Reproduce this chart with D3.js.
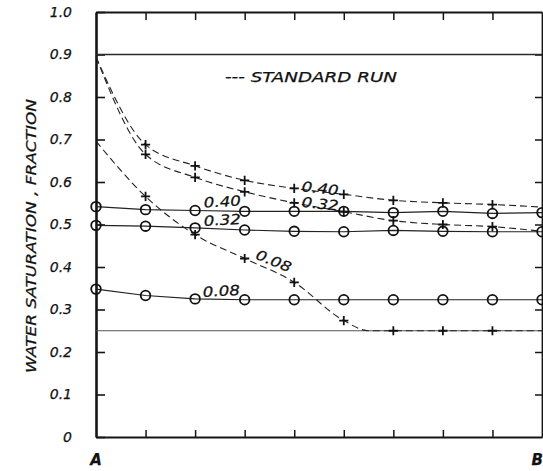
<!DOCTYPE html>
<html>
<head>
<meta charset="utf-8">
<script src="https://cdn.jsdelivr.net/npm/d3@7"></script>
<style>
  html, body { margin: 0; padding: 0; background: #fff; }
  svg { display: block; }
  text { font-family: "DejaVu Sans", sans-serif; font-style: italic; fill: #111; stroke: #111; stroke-width: 0.25; }
</style>
</head>
<body>
<svg id="chart" width="543" height="471"></svg>
<script>
// Positions along the core, A (0) to B (9)
const positions = [0, 1, 2, 3, 4, 5, 6, 7, 8, 9];

// Solid curves (circles), one per injection rate label
const solid040 = [0.542, 0.535, 0.533, 0.531, 0.531, 0.531, 0.528, 0.531, 0.526, 0.528];
const solid032 = [0.498, 0.496, 0.492, 0.487, 0.484, 0.483, 0.486, 0.484, 0.483, 0.483];
const solid008 = [0.348, 0.333, 0.325, 0.323, 0.323, 0.323, 0.323, 0.323, 0.323, 0.323];

// Standard run (dashed, crosses)
const std040 = [0.894, 0.688, 0.638, 0.604, 0.585, 0.571, 0.557, 0.551, 0.547, 0.541];
const std032 = [0.894, 0.665, 0.611, 0.577, 0.551, 0.530, 0.509, 0.500, 0.495, 0.484];
const std008X = [0, 1, 2, 3, 4, 5, 5.5, 6, 7, 8, 9];
const std008 = [0.696, 0.566, 0.476, 0.420, 0.364, 0.274, 0.25, 0.25, 0.25, 0.25, 0.25];
const crossPositions = [1, 2, 3, 4, 5, 6, 7, 8];

// Reference levels
const upperLevel = 0.9;
const lowerLevel = 0.25;

const yTicks = [0, 0.1, 0.2, 0.3, 0.4, 0.5, 0.6, 0.7, 0.8, 0.9, 1.0];
const yTickLabels = ["0", "0.1", "0.2", "0.3", "0.4", "0.5", "0.6", "0.7", "0.8", "0.9", "1.0"];
const xTicks = [1, 2, 3, 4, 5, 6, 7, 8];

const svg = d3.select("#chart");
const x = d3.scaleLinear().domain([0, 9]).range([96, 542]);
const y = d3.scaleLinear().domain([0, 1]).range([437, 12]);
const ink = "#151515";

// Frame with inward ticks
const axisLeftG = svg.append("g").attr("transform", `translate(${x(0)},0)`)
  .call(d3.axisLeft(y).tickValues(yTicks).tickSize(-9).tickSizeOuter(0).tickPadding(24)
    .tickFormat((d, i) => yTickLabels[i]));
axisLeftG.select(".domain").attr("stroke", ink).attr("stroke-width", 2.6);
axisLeftG.selectAll(".tick line").attr("stroke", ink).attr("stroke-width", 1.6);
axisLeftG.selectAll(".tick text").attr("font-size", 14).attr("font-family", "DejaVu Sans")
  .attr("font-style", "italic").attr("fill", "#111").attr("stroke", "#111").attr("stroke-width", 0.35);

const axisRightG = svg.append("g").attr("transform", `translate(${x(9)},0)`)
  .call(d3.axisRight(y).tickValues(yTicks.slice(1, 10)).tickSize(-7).tickSizeOuter(0).tickFormat(""));
axisRightG.select(".domain").attr("stroke", ink).attr("stroke-width", 1.8);
axisRightG.selectAll(".tick line").attr("stroke", ink).attr("stroke-width", 1.5);

const axisBottomG = svg.append("g").attr("transform", `translate(0,${y(0)})`)
  .call(d3.axisBottom(x).tickValues(xTicks).tickSize(-7).tickSizeOuter(0).tickFormat(""));
axisBottomG.select(".domain").attr("stroke", ink).attr("stroke-width", 2.2);
axisBottomG.selectAll(".tick line").attr("stroke", ink).attr("stroke-width", 1.5);

const axisTopG = svg.append("g").attr("transform", `translate(0,${y(1)})`)
  .call(d3.axisTop(x).tickValues(xTicks).tickSize(-8).tickSizeOuter(0).tickFormat(""));
axisTopG.select(".domain").attr("stroke", ink).attr("stroke-width", 1.8);
axisTopG.selectAll(".tick line").attr("stroke", ink).attr("stroke-width", 1.5);

// Reference levels
[[upperLevel, 1.3, "#2a2a2a"], [lowerLevel, 1.2, "#555"]].forEach(([v, w, c]) => {
  svg.append("line").attr("x1", x(0)).attr("x2", x(9)).attr("y1", y(v)).attr("y2", y(v))
    .attr("stroke", c).attr("stroke-width", w);
});

// Dashed standard-run curves
const dashed = d3.line().curve(d3.curveMonotoneX);
const drawDashed = (xs, ys) => svg.append("path")
  .attr("d", dashed(xs.map((p, i) => [x(p), y(ys[i])])))
  .attr("fill", "none").attr("stroke", "#222").attr("stroke-width", 1.1)
  .attr("stroke-dasharray", "7,4");
drawDashed(positions, std040);
drawDashed(positions, std032);
drawDashed(std008X, std008);

// Solid curves
const solid = d3.line();
[solid040, solid032, solid008].forEach(vals => {
  svg.append("path").attr("d", solid(positions.map((p, i) => [x(p), y(vals[i])])))
    .attr("fill", "none").attr("stroke", "#222").attr("stroke-width", 1.2);
});

// Crosses on the standard run
const crossAt = (p, v) => {
  const cx = x(p), cy = y(v), a = 4.6;
  svg.append("path").attr("d", `M${cx - a},${cy}H${cx + a}M${cx},${cy - a}V${cy + a}`)
    .attr("stroke", "#111").attr("stroke-width", 1.8).attr("fill", "none");
};
crossPositions.forEach(p => {
  crossAt(p, std040[positions.indexOf(p)]);
  crossAt(p, std032[positions.indexOf(p)]);
  crossAt(p, std008[std008X.indexOf(p)]);
});

// Circles on the solid curves
[solid040, solid032, solid008].forEach(vals => {
  svg.selectAll(null).data(positions).enter().append("circle")
    .attr("cx", p => x(p)).attr("cy", (p, i) => y(vals[i])).attr("r", 4.8)
    .attr("fill", "none").attr("stroke", "#111").attr("stroke-width", 1.8);
});

// Curve labels
const label = (txt, px, v, dx, dy, rot) => {
  const t = svg.append("text").text(txt).attr("font-size", 14)
    .attr("textLength", 37).attr("lengthAdjust", "spacingAndGlyphs");
  const tx = x(px) + dx, ty = y(v) + dy;
  t.attr("x", tx).attr("y", ty);
  if (rot) t.attr("transform", `rotate(${rot},${tx},${ty})`);
};
label("0.40", 2, solid040[2], 9, -3, -3);
label("0.32", 2, solid032[2], 9, -2, -3);
label("0.08", 2, solid008[2], 8, -2, -3);
label("0.40", 4, std040[4], 7, 3, 6);
label("0.32", 4, std032[4], 7, 4, 6);
label("0.08", 3, std008[3], 10, 0, 22);

// Legend
svg.append("text").attr("x", 225).attr("y", 82).attr("font-size", 14)
  .attr("textLength", 172).attr("lengthAdjust", "spacingAndGlyphs")
  .text("--- STANDARD  RUN");

// Axis title
svg.append("text").attr("transform", "translate(36,236) rotate(-90)")
  .attr("text-anchor", "middle").attr("font-size", 14)
  .attr("textLength", 274).attr("lengthAdjust", "spacingAndGlyphs")
  .text("WATER  SATURATION , FRACTION");

// End labels
svg.append("text").attr("x", x(0)).attr("y", 465).attr("text-anchor", "middle")
  .attr("font-size", 15).attr("font-weight", "bold").text("A");
svg.append("text").attr("x", 543).attr("y", 465).attr("text-anchor", "end")
  .attr("font-size", 15).attr("font-weight", "bold").text("B");
</script>
</body>
</html>
